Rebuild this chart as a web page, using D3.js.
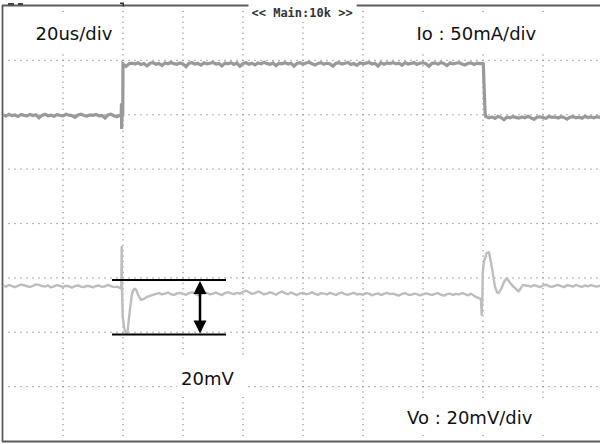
<!DOCTYPE html>
<html>
<head>
<meta charset="utf-8">
<script src="https://cdn.jsdelivr.net/npm/d3@7"></script>
<style>
  html, body { margin: 0; padding: 0; background: #fff; }
  svg { display: block; }
</style>
</head>
<body>
<svg id="scope" width="600" height="444"></svg>
<script>
// ---- Scope settings ----
const usPerDiv = 20;
const ioMaPerDiv = 50;
const voMvPerDiv = 20;
const timeDivCount = 10;
const vertDivCount = 8;
const ioZeroDiv = 2;    // Io ground level, divisions above screen centre
const voZeroDiv = -1;   // Vo reference level, divisions above screen centre
const triggerUs = 40;
const timebaseLabel = "<< Main:10k >>";

// ---- Io samples, mA, one per microsecond (t = 0 .. 200 us) ----
const ioSamples = [
  -0.3,-1.2,0.4,-0.8,-0.2,-1.6,0.2,-0.6,-1.0,0.3,
  -0.7,-0.1,-2.8,-0.5,0.5,-0.9,-0.3,-1.4,0.1,-0.6,
  -1.1,0.4,-0.4,-0.8,-2.4,-0.2,0.6,-0.7,-1.3,-0.1,
  -0.5,0.3,-1.0,-0.6,-3.0,-0.2,0.5,-0.9,-1.8,-0.4,
  46.8,44.5,46.9,47.5,46.6,47.8,46.2,47.1,44.9,47.4,
  47.9,46.5,47.2,45.3,47.6,46.9,48.1,47.0,46.4,47.7,
  46.8,44.2,47.3,47.9,46.6,47.1,45.6,47.8,46.9,47.4,
  48.0,46.7,47.2,45.0,47.5,46.8,47.9,46.3,47.6,44.6,
  47.2,47.8,46.5,47.4,45.9,47.7,46.9,48.2,47.0,46.4,
  47.6,45.2,47.3,46.8,47.9,46.6,47.4,44.8,47.1,47.8,
  46.5,47.6,48.3,46.9,45.7,47.2,47.9,46.4,47.5,46.8,
  44.7,47.3,47.8,46.6,47.4,48.0,46.2,47.1,45.4,47.7,
  46.9,47.5,48.2,46.7,47.3,44.9,47.8,46.5,47.6,47.0,
  48.1,46.8,47.4,45.6,47.9,46.6,47.2,48.0,46.3,47.5,
  47.8,46.9,44.6,47.3,47.7,46.5,48.1,47.0,45.3,47.6,
  46.8,47.4,47.9,46.6,45.8,47.3,47.7,46.2,47.5,47.0,
  47.2,-1.8,-2.9,-2.0,-3.4,-1.5,-2.6,-4.6,-2.1,-2.8,
  -1.7,-2.4,-3.1,-2.0,-2.7,-1.4,-2.9,-4.2,-2.2,-1.9,
  -2.6,-3.3,-1.6,-2.4,-2.1,-3.0,-1.8,-2.5,-4.0,-2.2,
  -1.7,-2.8,-2.3,-3.2,-1.5,-2.6,-2.0,-2.9,-1.8,-2.4,
  -2.1
];
// Io edges captured at finer time resolution: [us, mA]
const ioEdgeDetail = [
  [39.4,-0.8],[39.5,10.5],[39.55,-13],[39.7,-0.5],[39.92,-0.3],
  [160.1,47.0],[160.4,23],[160.7,2],[160.85,-1.5]
];

// ---- Vo samples, mV, one per microsecond (t = 0 .. 200 us) ----
const voSamples = [
  -2.8,-3.2,-2.6,-3.0,-3.4,-2.9,-2.5,-2.7,-3.1,-3.3,
  -2.9,-2.4,-2.6,-3.0,-3.2,-2.8,-3.5,-3.1,-2.7,-3.0,
  -3.3,-2.9,-3.1,-3.6,-3.0,-2.8,-3.2,-3.4,-2.9,-3.1,
  -3.5,-3.0,-2.8,-3.3,-3.1,-2.6,-3.0,-3.4,-3.2,-3.7,
  -20,-20,-14,-6,-4,-6,-8,-7.7,-7,-6.6,-6.2,-5.9,
  -5.6,-6.1,-5.8,-5.4,-6.0,-6.3,-5.7,-5.5,
  -5.9,-6.2,-5.6,-5.3,-5.8,-6.4,-6.0,-5.7,-5.5,-6.1,
  -5.8,-5.4,-5.9,-6.3,-5.6,-5.2,-5.7,-6.0,-5.5,-5.8,
  -5.2,-4.7,-5.3,-5.9,-5.6,-5.0,-5.4,-6.1,-5.8,-5.3,
  -5.7,-6.2,-5.5,-5.0,-5.6,-6.0,-5.4,-5.9,-6.3,-5.7,
  -5.5,-6.0,-5.8,-5.3,-5.9,-6.2,-5.6,-5.8,-6.1,-5.5,
  -5.9,-6.3,-5.7,-5.4,-6.0,-6.2,-5.8,-5.5,-6.1,-5.9,
  -6.2,-5.6,-5.8,-6.4,-6.0,-5.7,-6.3,-5.9,-5.5,-6.0,
  -5.8,-6.2,-6.5,-5.9,-5.6,-6.1,-6.3,-5.8,-6.0,-6.4,
  -6.1,-5.7,-6.0,-6.3,-5.9,-5.6,-6.2,-6.5,-6.0,-5.8,
  -6.3,-5.9,-6.1,-5.6,-6.0,-6.4,-5.8,-6.6,-7.2,-7.6,
  2,9,9.4,4,-3.3,-5.6,-3.7,-1.5,-0.5,-1.8,-3.1,-4.5,-4.0,-2.6,-2.8,-3.0,
  -3.2,-2.7,-3.0,-3.4,-2.8,-2.5,-3.1,-3.3,-2.9,-2.6,
  -3.0,-3.4,-2.7,-2.9,-3.2,-2.6,-3.0,-3.3,-2.8,-3.1,
  -2.7,-3.0,-3.2,-2.9,-3.1
];
// Vo load-step transients at finer time resolution: [us, mV]
const voStepUpDetail = [
  [39.43,-4.0],[39.57,11.4],[39.67,-4.4],[39.9,-14.3],[40.5,-19.1],[41,-20.2],
  [41.5,-20.0],[42,-14.7],[42.5,-9.9],[43,-5.9],[43.5,-4.4],[44,-4.0],[44.5,-4.6],
  [45,-6.25],[46,-8.1],[47,-7.7],[48,-7.0],[49,-6.6],[50,-6.25],[51,-5.9]
];
const voStepDownDetail = [
  [159.33,-8.1],[159.57,-13.6],[159.77,-8.1],[159.9,1.8],[160.33,5.9],[161.23,9.2],
  [162,9.4],[162.9,4.15],[163.5,0],[164,-3.3],[164.67,-5.3],[165.17,-5.6],
  [165.67,-4.8],[166.23,-3.7],[167,-1.5],[167.9,-0.1],[168.33,-0.7],[169,-1.8],
  [170,-3.1],[170.67,-3.7],[171.77,-5.0],[172.67,-3.7],[173.33,-2.6],[174.67,-2.9],
  [175.5,-3.0]
];

// Undershoot marker, mV
const markerTopMv = -0.8;
const markerSpanMv = 20;

// ---- Scales ----
const svg = d3.select("#scope");
const tMax = usPerDiv * timeDivCount;
const x = d3.scaleLinear().domain([0, tMax]).range([3, 603]);
const yDiv = d3.scaleLinear().domain([-vertDivCount / 2, vertDivCount / 2]).range([441, 6]);
const yIo = d3.scaleLinear()
  .domain([(-vertDivCount / 2 - ioZeroDiv) * ioMaPerDiv, (vertDivCount / 2 - ioZeroDiv) * ioMaPerDiv])
  .range(yDiv.range());
const yVo = d3.scaleLinear()
  .domain([(-vertDivCount / 2 - voZeroDiv) * voMvPerDiv, (vertDivCount / 2 - voZeroDiv) * voMvPerDiv])
  .range(yDiv.range());

// ---- Graticule: dotted division lines ----
const grid = svg.append("g").attr("fill", "#8a8a8a");
const vTimes = d3.range(1, timeDivCount).map(i => i * usPerDiv);
const vDivs = d3.range(-vertDivCount / 2 + 1, vertDivCount / 2);
const vDots = [];
vTimes.forEach(t => d3.range(1, vertDivCount * 10).forEach(k => vDots.push([x(t), yDiv(-vertDivCount / 2 + k / 10)])));
const hDots = [];
vDivs.forEach(d => d3.range(1, timeDivCount * 10).forEach(k => hDots.push([x(k * usPerDiv / 10), yDiv(d)])));
grid.selectAll("rect.d").data(vDots.concat(hDots)).join("rect")
  .attr("class", "d")
  .attr("x", d => d[0] - 0.6).attr("y", d => d[1] - 0.6)
  .attr("width", 1.2).attr("height", 1.2);

// ---- Frame ----
const frame = svg.append("g").attr("stroke", "#5a5a5a").attr("fill", "none");
frame.append("line").attr("x1", 2).attr("x2", 600).attr("y1", 5.5).attr("y2", 5.5).attr("stroke-width", 1.8);
frame.append("line").attr("x1", 2.5).attr("x2", 2.5).attr("y1", 5).attr("y2", 442).attr("stroke-width", 1.8);
frame.append("line").attr("x1", 2).attr("x2", 600).attr("y1", 441.5).attr("y2", 441.5).attr("stroke-width", 2);

// Trigger position marker above the graticule
svg.append("path")
  .attr("d", `M${x(triggerUs) - 3},2.5 h4 v4 h-1.5 v-2.5 h-2.5 z`)
  .attr("fill", "#333");
svg.append("rect").attr("x", 8).attr("y", 3).attr("width", 6).attr("height", 2).attr("fill", "#444");
svg.append("rect").attr("x", 18).attr("y", 3).attr("width", 5).attr("height", 2).attr("fill", "#444");

// ---- Text labels with white backing ----
function boxedText(str, tx, ty, opts) {
  const g = svg.append("g");
  const bg = g.append("rect").attr("fill", "#fff");
  const t = g.append("text").attr("x", tx).attr("y", ty)
    .attr("font-family", opts.family).attr("font-size", opts.size)
    .attr("fill", opts.color || "#111")
    .attr("font-weight", opts.weight || "normal")
    .text(str);
  const b = t.node().getBBox();
  const p = opts.pad;
  bg.attr("x", b.x - p[3]).attr("y", b.y - p[0])
    .attr("width", b.width + p[1] + p[3]).attr("height", b.height + p[0] + p[2]);
  return t;
}
const sans = "'DejaVu Sans', Verdana, sans-serif";
boxedText(timebaseLabel, 251.5, 17, { family: "'DejaVu Sans Mono', monospace", size: 12, color: "#333", weight: "bold", pad: [2, 4, 2, 3] });
boxedText(`${usPerDiv}us/div`, 35.5, 39.5, { family: sans, size: 18, pad: [8, 8, 8, 10] });
boxedText(`Io : ${ioMaPerDiv}mA/div`, 416.5, 39.5, { family: sans, size: 18, pad: [8, 10, 8, 10] });
boxedText(`Vo : ${voMvPerDiv}mV/div`, 407, 424, { family: sans, size: 18, pad: [8, 12, 6, 10] });

// ---- Traces ----
function buildSeries(samples, details, windows) {
  const base = samples.map((v, i) => [i, v])
    .filter(d => !windows.some(w => d[0] > w[0] && d[0] < w[1]));
  return base.concat(...details).sort((a, b) => a[0] - b[0]);
}
const ioSeries = buildSeries(ioSamples, [ioEdgeDetail], []);
const voSeries = buildSeries(voSamples, [voStepUpDetail, voStepDownDetail], [[39, 52], [159, 176]]);

svg.append("path").datum(ioSeries)
  .attr("fill", "none").attr("stroke", "#999").attr("stroke-width", 3.2)
  .attr("stroke-linejoin", "miter")
  .attr("d", d3.line().x(d => x(d[0])).y(d => yIo(d[1])));
svg.append("path").datum(voSeries)
  .attr("fill", "none").attr("stroke", "#bdbdbd").attr("stroke-width", 2.4)
  .attr("stroke-linejoin", "round")
  .attr("d", d3.line().x(d => x(d[0])).y(d => yVo(d[1])));

// ---- Undershoot measurement marker ----
const mTop = yVo(markerTopMv);
const mBot = yVo(markerTopMv - markerSpanMv);
const mk = svg.append("g");
mk.selectAll("line.h").data([mTop, mBot]).join("line")
  .attr("class", "h").attr("x1", 112).attr("x2", 226)
  .attr("y1", d => d).attr("y2", d => d)
  .attr("stroke", "#000").attr("stroke-width", 2);
const ax = 200, head = 13, hw = 6.5;
mk.append("line").attr("x1", ax).attr("x2", ax).attr("y1", mTop + 4).attr("y2", mBot - 4)
  .attr("stroke", "#000").attr("stroke-width", 2.5);
mk.append("path").attr("fill", "#000")
  .attr("d", `M${ax},${mTop + 1} L${ax + hw},${mTop + 1 + head} L${ax - hw},${mTop + 1 + head} Z`);
mk.append("path").attr("fill", "#000")
  .attr("d", `M${ax},${mBot - 1} L${ax + hw},${mBot - 1 - head} L${ax - hw},${mBot - 1 - head} Z`);
boxedText(`${markerSpanMv}mV`, 181, 385, { family: sans, size: 18, pad: [10, 10, 8, 4] });
</script>
</body>
</html>
